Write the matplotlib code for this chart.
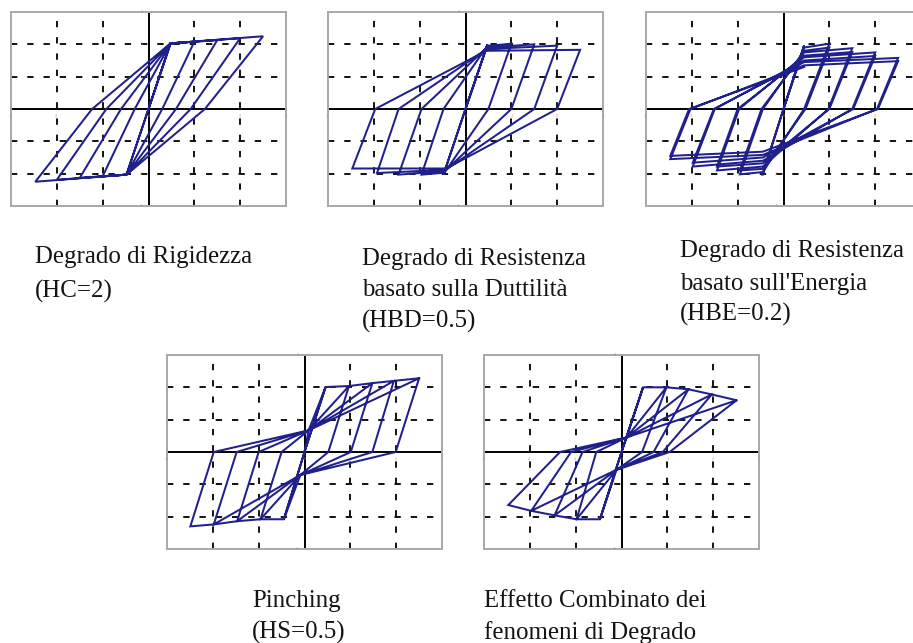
import matplotlib
matplotlib.use("Agg")
import matplotlib.pyplot as plt

# ---------------- data ----------------
TICKS = [-3, -2, -1, 0, 1, 2, 3]
GRID = [-2, -1, 1, 2]

# Panel 1 - Degrado di Rigidezza (HC=2)
P1_POS_X = [0.48, 1.0, 1.5, 2.0, 2.5]
P1_POS_F = [2.03, 2.08, 2.13, 2.19, 2.25]
P1_NEG_X = [-0.48, -1.0, -1.5, -2.0, -2.47]
P1_NEG_F = [-2.03, -2.08, -2.13, -2.19, -2.25]
P1_ZPOS = [0.0, 0.3, 0.6, 0.92, 1.23]
P1_ZNEG = [0.0, -0.3, -0.6, -0.92, -1.23]
P1_TPOS_X = [0.48, 0.48, 0.48, 0.48, 0.48, 0.48]
P1_TPOS_F = [2.03, 2.03, 2.03, 2.03, 2.03, 2.03]
P1_TNEG_X = [-0.48, -0.48, -0.48, -0.48, -0.48]
P1_TNEG_F = [-2.03, -2.03, -2.03, -2.03, -2.03]

# Panel 2 - Degrado di Resistenza basato sulla Duttilita (HBD=0.5)
P2_POS_X = [0.48, 1.0, 1.5, 2.0, 2.5]
P2_POS_F = [2.0, 2.02, 2.0, 1.96, 1.83]
P2_NEG_X = [-0.48, -0.96, -1.46, -1.93, -2.47]
P2_NEG_F = [-2.03, -2.03, -2.03, -1.98, -1.84]
P2_ZPOS = [0.0, 0.5, 1.0, 1.5, 2.0]
P2_ZNEG = [0.0, -0.48, -0.96, -1.46, -1.97]
P2_TPOS_X = [0.48, 0.47, 0.45, 0.43, 0.41, 0.40]
P2_TPOS_F = [2.0, 1.95, 1.9, 1.85, 1.8, 1.76]
P2_TNEG_X = [-0.48, -0.46, -0.45, -0.43, -0.42]
P2_TNEG_F = [-2.03, -1.97, -1.92, -1.88, -1.84]

# Panel 3 - Degrado di Resistenza basato sull'Energia (HBE=0.2)
P3_POS_X = [0.45, 1.0, 1.0, 1.5, 1.5, 2.0, 2.0, 2.5, 2.5]
P3_POS_F = [1.97, 2.02, 1.9, 1.88, 1.76, 1.75, 1.64, 1.58, 1.48]
P3_NEG_X = [-0.46, -0.95, -0.95, -1.45, -1.45, -1.98, -1.98, -2.47, -2.47]
P3_NEG_F = [-2.03, -2.02, -1.9, -1.9, -1.78, -1.78, -1.66, -1.55, -1.45]
P3_ZPOS = [0.0, 0.45, 0.48, 0.98, 1.0, 1.5, 1.52, 2.04, 2.06]
P3_ZNEG = [0.0, -0.45, -0.48, -0.97, -1.0, -1.5, -1.52, -2.03, -2.06]
P3_TPOS_X = [0.45, 0.45, 0.45, 0.45, 0.45, 0.45, 0.45, 0.45, 0.45, 0.45]
P3_TPOS_F = [1.97, 1.9, 1.8, 1.75, 1.65, 1.6, 1.5, 1.45, 1.35, 1.3]
P3_TNEG_X = [-0.45, -0.45, -0.45, -0.45, -0.45, -0.45, -0.45, -0.45, -0.45]
P3_TNEG_F = [-2.03, -1.95, -1.85, -1.78, -1.68, -1.6, -1.5, -1.42, -1.32]

# Panel 4 - Pinching (HS=0.5)
P4_POS_X = [0.46, 0.97, 1.48, 1.95, 2.5]
P4_POS_F = [2.01, 2.04, 2.13, 2.2, 2.28]
P4_NEG_X = [-0.45, -0.96, -1.47, -1.98, -2.49]
P4_NEG_F = [-2.08, -2.08, -2.14, -2.24, -2.3]
P4_ZPOS = [0.0, 0.52, 1.01, 1.48, 1.99]
P4_ZNEG = [0.0, -0.5, -1.0, -1.48, -1.98]
P4_TPOS_X = [0.46, 0.46, 0.97, 1.48, 1.95, 2.5]
P4_TPOS_F = [2.01, 2.01, 2.04, 2.13, 2.2, 2.28]
P4_TNEG_X = [-0.45, -0.45, -0.96, -1.47, -1.98]
P4_TNEG_F = [-2.08, -2.08, -2.08, -2.14, -2.24]
P4_PINCH_POS = (0.09, 0.67)
P4_PINCH_NEG = (-0.09, -0.71)

# Panel 5 - Effetto Combinato dei fenomeni di Degrado
P5_POS_X = [0.47, 0.98, 1.46, 1.97, 2.51]
P5_POS_F = [2.0, 2.0, 1.94, 1.78, 1.6]
P5_NEG_X = [-0.47, -0.98, -1.46, -1.97, -2.47]
P5_NEG_F = [-2.08, -2.08, -1.96, -1.82, -1.64]
P5_ZPOS = [0.0, 0.45, 0.7, 0.9, 1.05]
P5_ZNEG = [0.0, -0.55, -0.85, -1.1, -1.34]
P5_TPOS_X = [0.47, 0.47, 0.98, 1.46, 1.97, 2.51]
P5_TPOS_F = [2.0, 2.0, 2.0, 1.94, 1.78, 1.6]
P5_TNEG_X = [-0.47, -0.47, -0.98, -1.46, -1.97]
P5_TNEG_F = [-2.08, -2.08, -2.08, -1.96, -1.82]
P5_PINCH_POS = (0.11, 0.45)
P5_PINCH_NEG = (-0.11, -0.55)

LABELS = [
    ["Degrado di Rigidezza", "(HC=2)"],
    ["Degrado di Resistenza", "basato sulla Duttilità", "(HBD=0.5)"],
    ["Degrado di Resistenza", "basato sull'Energia", "(HBE=0.2)"],
    ["Pinching", "(HS=0.5)"],
    ["Effetto Combinato dei", "fenomeni di Degrado"],
]

# ---------------- layout (pixels) ----------------
W, H = 913, 643
PANEL_BOX = [(11, 12), (328, 12), (646, 12), (167, 355), (484, 355)]
PW, PH = 275, 194
LABEL_POS = [(35, [263, 298]), (362, [265, 296, 328]), (680, [257, 290, 321]),
             (252, [607, 639]), (484, [607, 639])]

LOOP_COLOR = "#20208c"


def build_path(px, pf, nx, nf, zp, zn, tpx, tpf, tnx, tnf, pinch_p=None, pinch_n=None):
    xs, ys = [0.0], [0.0]
    n = len(px)
    for i in range(n):
        if i > 0 and pinch_p is not None:
            xs.append(pinch_p[0]); ys.append(pinch_p[1])
        xs += [tpx[i], px[i], zp[i]]
        ys += [tpf[i], pf[i], 0.0]
        if i > 0 and pinch_n is not None:
            xs.append(pinch_n[0]); ys.append(pinch_n[1])
        xs += [tnx[i], nx[i], zn[i]]
        ys += [tnf[i], nf[i], 0.0]
    if pinch_p is not None:
        xs.append(pinch_p[0]); ys.append(pinch_p[1])
    xs.append(tpx[n]); ys.append(tpf[n])
    return xs, ys


paths = [
    build_path(P1_POS_X, P1_POS_F, P1_NEG_X, P1_NEG_F, P1_ZPOS, P1_ZNEG,
               P1_TPOS_X, P1_TPOS_F, P1_TNEG_X, P1_TNEG_F),
    build_path(P2_POS_X, P2_POS_F, P2_NEG_X, P2_NEG_F, P2_ZPOS, P2_ZNEG,
               P2_TPOS_X, P2_TPOS_F, P2_TNEG_X, P2_TNEG_F),
    build_path(P3_POS_X, P3_POS_F, P3_NEG_X, P3_NEG_F, P3_ZPOS, P3_ZNEG,
               P3_TPOS_X, P3_TPOS_F, P3_TNEG_X, P3_TNEG_F),
    build_path(P4_POS_X, P4_POS_F, P4_NEG_X, P4_NEG_F, P4_ZPOS, P4_ZNEG,
               P4_TPOS_X, P4_TPOS_F, P4_TNEG_X, P4_TNEG_F, P4_PINCH_POS, P4_PINCH_NEG),
    build_path(P5_POS_X, P5_POS_F, P5_NEG_X, P5_NEG_F, P5_ZPOS, P5_ZNEG,
               P5_TPOS_X, P5_TPOS_F, P5_TNEG_X, P5_TNEG_F, P5_PINCH_POS, P5_PINCH_NEG),
]

fig = plt.figure(figsize=(W / 100, H / 100), dpi=100)
fig.patch.set_facecolor("white")

for k, ((L, T), (xs, ys)) in enumerate(zip(PANEL_BOX, paths)):
    ax = fig.add_axes([L / W, 1 - (T + PH) / H, PW / W, PH / H])
    ax.set_xlim(-3, 3)
    ax.set_ylim(-3, 3)
    ax.set_xticks([])
    ax.set_yticks([])
    for s in ax.spines.values():
        s.set_color("#a8a8a8")
        s.set_linewidth(1.4)
    for g in GRID:
        ax.axvline(g, color="black", lw=1.3, ls=(0, (3.5, 5.5)), zorder=1)
        ax.axhline(g, color="black", lw=1.3, ls=(0, (3.5, 5.5)), zorder=1)
    ax.axhline(0, color="black", lw=1.4, zorder=2)
    ax.axvline(0, color="black", lw=1.4, zorder=2)
    for t in TICKS:
        # skip labels that fall outside the figure (right panel is cut by the edge)
        if L + (t + 3) / 6 * PW > W - 4:
            continue
        ax.text(t, -0.22, str(t), fontsize=2.5, color="#c08a50", ha="center", va="center",
                zorder=3, clip_on=False)
        if t != 0:
            ax.text(-0.15, t, str(t), fontsize=2.5, color="#c08a50", ha="center", va="center",
                    zorder=3, clip_on=False)
    ax.plot(xs, ys, color=LOOP_COLOR, lw=1.45, zorder=4, solid_joinstyle="miter")

for (x, bases), lines in zip(LABEL_POS, LABELS):
    for yb, s in zip(bases, lines):
        fig.text(x / W, 1 - yb / H, s, fontsize=17.9, family="Liberation Serif",
                 color="#141414", ha="left", va="baseline")

fig.savefig("out.png", dpi=100)
